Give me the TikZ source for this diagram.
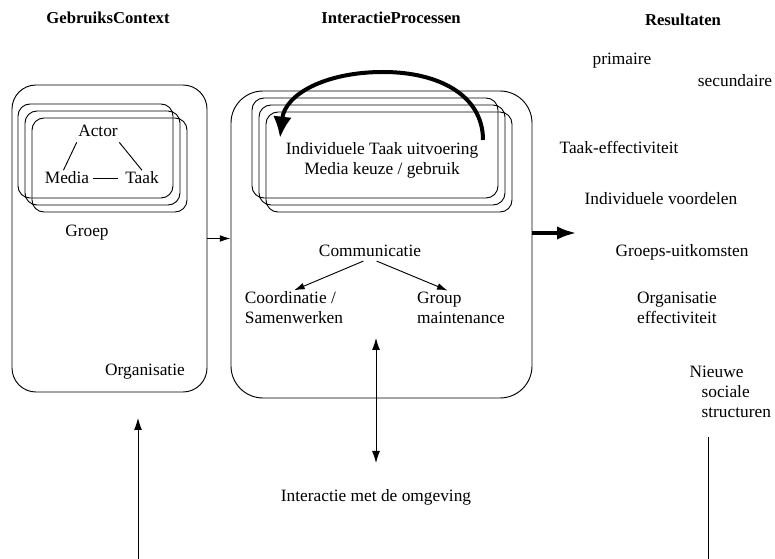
\documentclass[tikz,border=0pt]{standalone}
\usepackage{fontspec}
\setmainfont{Liberation Serif}
\usetikzlibrary{arrows.meta,fit,positioning}

\begin{document}
\begin{tikzpicture}[x=0.75pt,y=-0.75pt,
        every node/.style={font=\fontsize{13}{15}\selectfont, inner sep=1pt},
        head/.style={font=\fontsize{12.5}{15}\selectfont\bfseries},
        bigbox/.style={draw, line width=0.7pt, inner sep=0pt},
        stackbox/.style={draw, line width=0.7pt, rounded corners=9pt},
        small/.style={line width=0.7pt, -{Latex[length=8pt,width=5pt]}},
        fat/.style={line width=3pt, -{Latex[length=15pt,width=10pt]}}]
        \useasboundingbox (0,0) rectangle (775,559);

        % kolomkoppen
        \node[head] (gebruik) at (108,18) {GebruiksContext};
        \node[head] (proces) at (391,18) {InteractieProcessen};
        \node[head] (result) at (683,20) {Resultaten};

        % gebruikscontext
        \node[bigbox, rounded corners=18pt, fit={(12,85) (207,392)}] (context) {};
        \foreach \d in {0,7,14}
            \draw[stackbox] (18+\d,104+\d) rectangle (173+\d,198+\d);
        \node (actor) at (98,131) {Actor};
        \node (media) at (67,178) {Media};
        \node (taak) at (142,178) {Taak};
        \draw[line width=0.7pt] ([yshift=-3pt]actor.south west) -- (media.115);
        \draw[line width=0.7pt] ([yshift=-3pt]actor.south east) -- (taak.north);
        \draw[line width=0.7pt] ([xshift=2pt]media.east) -- ([xshift=-4pt]taak.west);
        \node (groep) at (87,233) {Groep};
        \node (org) at (145,372) {Organisatie};

        % interactieprocessen
        \node[bigbox, rounded corners=24pt, fit={(231,91) (532,398)}] (proc) {};
        \foreach \d in {0,7,14}
            \draw[stackbox] (252+\d,98+\d) rectangle (498+\d,198+\d);
        \node[align=center] (taken) at (382,160) {Individuele Taak uitvoering\\Media keuze / gebruik};
        \coordinate (loopA) at (483,140);
        \coordinate (loopB) at (280,138);
        \draw[fat, -{Latex[length=16pt,width=14pt]}] (loopA) .. controls (483,96) and (440,72) .. (383,72)
            .. controls (326,72) and (285,94) .. (loopB);

        \node (comm) at (370,251) {Communicatie};
        \node[align=left] (coord) at (294,308) {Coordinatie /\\Samenwerken};
        \node[align=left] (group) at (461,308) {Group\\maintenance};
        \draw[small] ([xshift=-5pt,yshift=-2pt]comm.south) -- (coord.north);
        \draw[small] ([xshift=5pt,yshift=-2pt]comm.south) -- ([xshift=-10pt]group.north);

        \draw[small] (context.east) -- (context.east -| proc.west);

        % omgeving
        \coordinate (envtop) at (376,338);
        \coordinate (envbot) at (376,463);
        \node (env) at (376,497) {Interactie met de omgeving};
        \draw[small, {Latex[length=9pt,width=6pt]}-{Latex[length=9pt,width=6pt]}] (envtop) -- (envbot);

        \coordinate (terug) at (138,559);
        \coordinate (terugtop) at (138,418);
        \draw[small, -{Latex[length=9pt,width=6pt]}] (terug) -- (terugtop);

        % resultaten
        \coordinate (uit) at (577,233);
        \draw[fat] (uit -| proc.east) -- (uit);
        \node (prim) at (622,61) {primaire};
        \node (sec) at (735,81) {secundaire};
        \node (taakeff) at (619,147) {Taak-effectiviteit};
        \node (indiv) at (661,199) {Individuele voordelen};
        \node (groepsuit) at (682,252) {Groeps-uitkomsten};
        \node[align=center] (orgeff) at (677,308) {Organisatie\\effectiviteit};
        \node[align=left, anchor=north west] (nieuw) at (688,364) {Nieuwe\\\hspace*{9pt}sociale\\\hspace*{9pt}structuren};
        \coordinate (lijnonder) at (708,559);
        \draw[line width=0.7pt] (nieuw.south -| lijnonder) ++(0,18) -- (lijnonder);
\end{tikzpicture}
\end{document}
